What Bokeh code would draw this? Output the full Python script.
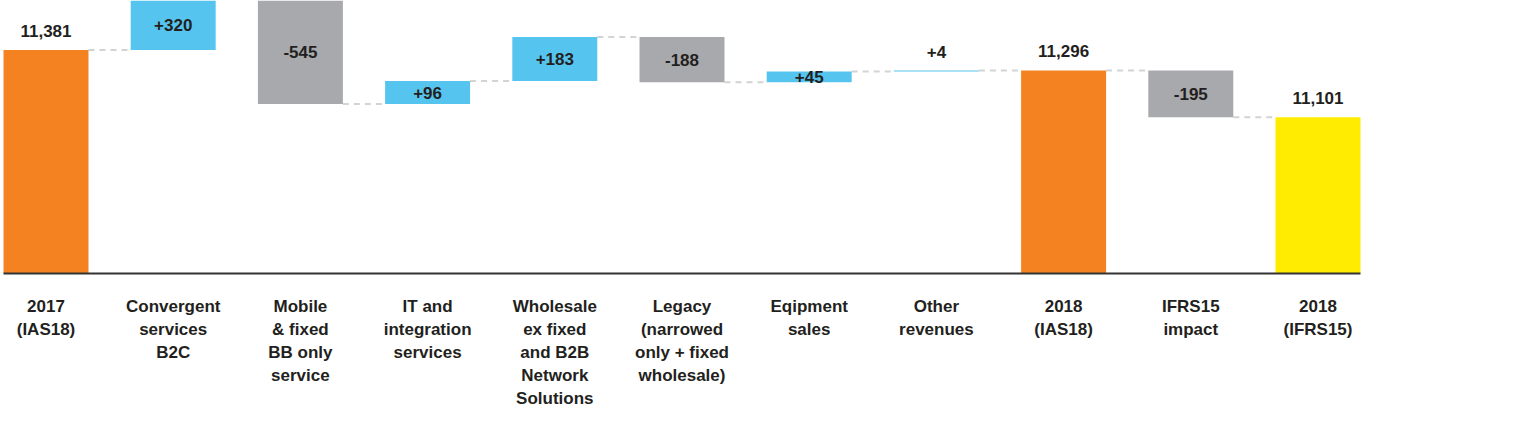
from bokeh.plotting import figure
from bokeh.models import Range1d, ColumnDataSource
from bokeh.core.properties import value
from bokeh.embed import file_html
from bokeh.resources import INLINE

# ---- data ----
categories = [
    "2017\n(IAS18)",
    "Convergent\nservices\nB2C",
    "Mobile\n& fixed\nBB only\nservice",
    "IT and\nintegration\nservices",
    "Wholesale\nex fixed\nand B2B\nNetwork\nSolutions",
    "Legacy\n(narrowed\nonly + fixed\nwholesale)",
    "Eqipment\nsales",
    "Other\nrevenues",
    "2018\n(IAS18)",
    "IFRS15\nimpact",
    "2018\n(IFRS15)",
]
values = [11381, 320, -545, 96, 183, -188, 45, 4, 11296, -195, 11101]
kinds = ["total", "delta", "delta", "delta", "delta", "delta", "delta", "delta",
         "total", "delta", "total"]

# ---- styling / layout ----
ORANGE = "#f58220"
YELLOW = "#ffec00"
BLUE = "#55c5f0"
GREY = "#a7a9ac"
TEXT = "#231f20"
FONT = value("Liberation Sans")

W, H = 1500, 420
Y_START, Y_END = 9837.5, 11587.5
BASE = 10450.0
HALF = 0.334

xs = list(range(len(categories)))
bottoms, tops, colors, labels, label_y, label_off = [], [], [], [], [], []
ends = []
running = None
for i, (v, k) in enumerate(zip(values, kinds)):
    if k == "total":
        b, t = BASE, v
        running = v
        col = YELLOW if i == len(values) - 1 else ORANGE
        labels.append(f"{v:,}")
        label_y.append(v)
        label_off.append(-19)
    else:
        start = running
        running = start + v
        b, t = min(start, running), max(start, running)
        col = BLUE if v > 0 else GREY
        labels.append(f"+{v}" if v > 0 else f"{v}")
        if abs(v) < 20:
            label_y.append(t)
            label_off.append(-18)
        else:
            label_y.append((b + min(t, Y_END)) / 2)
            label_off.append(0)
    bottoms.append(b)
    tops.append(t)
    colors.append(col)
    ends.append(running)

p = figure(width=W, height=H, output_backend="svg", toolbar_location=None,
           x_axis_type=None, y_axis_type=None,
           x_range=Range1d(-0.3577, -0.3577 + W / 127.2),
           y_range=Range1d(Y_START, Y_END),
           min_border=0, min_border_left=0, min_border_right=0,
           min_border_top=0, min_border_bottom=0)
p.outline_line_color = None
p.grid.visible = False
p.background_fill_color = "white"

# connectors
cx0 = [x + HALF for x in xs[:-1]]
cx1 = [x + 1 - HALF for x in xs[:-1]]
cy = ends[:-1]
p.segment(x0=cx0, y0=cy, x1=cx1, y1=cy, line_color="#d1d3d4", line_width=2,
          line_dash="6 5")

src = ColumnDataSource(dict(x=xs, bottom=bottoms, top=tops, color=colors))
p.vbar(x="x", bottom="bottom", top="top", width=2 * HALF, fill_color="color",
       line_color=None, source=src)

# baseline
p.segment(x0=[xs[0] - HALF], y0=[BASE], x1=[xs[-1] + HALF], y1=[BASE],
          line_color="#333333", line_width=2)

# value labels
lsrc = ColumnDataSource(dict(x=xs, y=label_y, text=labels, off=label_off))
p.text(x="x", y="y", text="text", y_offset="off", source=lsrc,
       text_align="center", text_baseline="middle", text_font=FONT,
       text_font_style="bold", text_font_size="17px", text_color=TEXT)

# category labels
csrc = ColumnDataSource(dict(x=xs, y=[BASE] * len(xs), text=categories))
p.text(x="x", y="y", text="text", y_offset=23, source=csrc,
       text_align="center", text_baseline="top", text_font=FONT,
       text_font_style="bold", text_font_size="17px", text_color=TEXT,
       text_line_height=1.22)

open("out.html", "w").write(file_html(p, INLINE))
